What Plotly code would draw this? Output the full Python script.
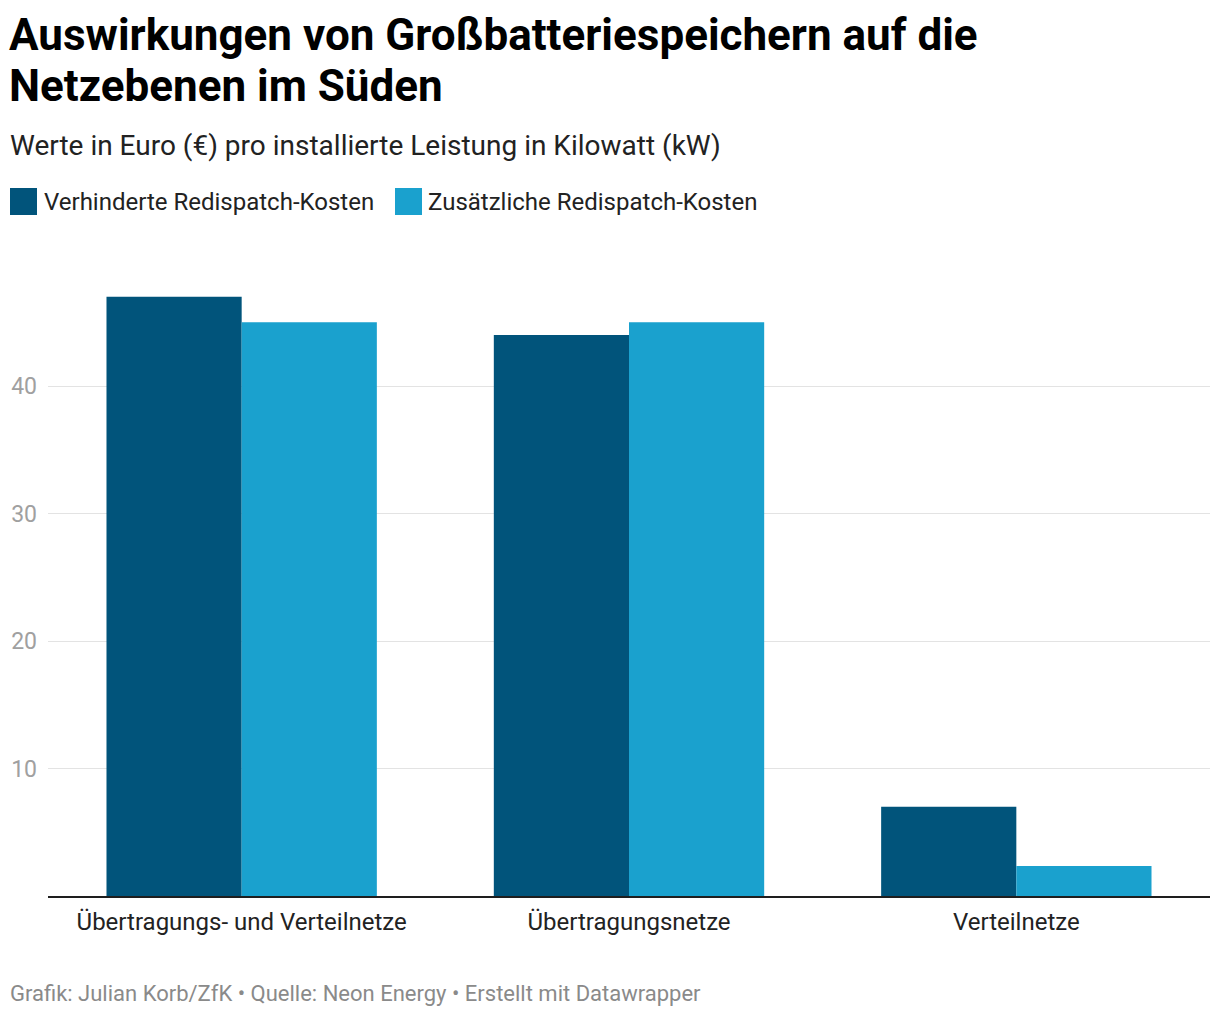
import plotly.graph_objects as go

categories = ["Übertragungs- und Verteilnetze", "Übertragungsnetze", "Verteilnetze"]
verhindert = [47, 44, 7]
zusaetzlich = [45, 45, 2.35]
series_names = ["Verhinderte Redispatch-Kosten", "Zusätzliche Redispatch-Kosten"]
colors = ["#01547b", "#1aa1ce"]
y_ticks = [10, 20, 30, 40]

OFF = 8  # page margin offset
W, H = 1212, 1010
L, R, T, B = 40, 10, 276, 122
PW, PH = W - L - R, H - T - B


def px2x(px):
    return (px - OFF - L) / PW


def py2y(py):
    return (H - B - (py - OFF)) / PH


fig = go.Figure()
fig.add_trace(go.Bar(x=categories, y=verhindert, name=series_names[0],
                     marker=dict(color=colors[0], line=dict(width=0))))
fig.add_trace(go.Bar(x=categories, y=zusaetzlich, name=series_names[1],
                     marker=dict(color=colors[1], line=dict(width=0))))

fig.update_layout(
    width=W, height=H,
    margin=dict(l=L, r=R, t=T, b=B, autoexpand=False),
    paper_bgcolor="white", plot_bgcolor="white",
    barmode="group", bargap=0.302, bargroupgap=0,
    showlegend=False,
    font=dict(family="Roboto", color="#222"),
)
fig.update_yaxes(range=[0, 48], tickvals=y_ticks, showgrid=True,
                 gridcolor="#e3e3e3", gridwidth=1, zeroline=False,
                 showline=False, ticks="", tickfont=dict(size=23, color="#a0a0a0"),
                 ticklabelstandoff=10)
fig.update_xaxes(showline=True, linecolor="#1e1e1e", linewidth=2, ticks="",
                 tickfont=dict(size=24, color="#222"), ticklabelstandoff=3)

annotations = [
    dict(text="<b>Auswirkungen von Großbatteriespeichern auf die</b>",
         x=px2x(7), y=py2y(35), xanchor="left", yanchor="middle",
         font=dict(size=44, color="#000", family="Roboto")),
    dict(text="<b>Netzebenen im Süden</b>",
         x=px2x(7), y=py2y(86), xanchor="left", yanchor="middle",
         font=dict(size=44, color="#000", family="Roboto")),
    dict(text="Werte in Euro (€) pro installierte Leistung in Kilowatt (kW)",
         x=px2x(8), y=py2y(146), xanchor="left", yanchor="middle",
         font=dict(size=28, color="#222", family="Roboto")),
    dict(text="Grafik: Julian Korb/ZfK • Quelle: Neon Energy • Erstellt mit Datawrapper",
         x=px2x(8), y=py2y(994), xanchor="left", yanchor="middle",
         font=dict(size=22, color="#8a8a8a", family="Roboto")),
]
shapes = []
legend_pos = [(10, 42), (395, 426)]
for (sx, tx), name, col in zip(legend_pos, series_names, colors):
    shapes.append(dict(type="rect", xref="paper", yref="paper",
                       x0=px2x(sx), x1=px2x(sx + 27), y0=py2y(188), y1=py2y(215),
                       fillcolor=col, line=dict(width=0)))
    annotations.append(dict(text=name, x=px2x(tx), y=py2y(202), xanchor="left",
                            yanchor="middle", font=dict(size=24, color="#222", family="Roboto")))

for a in annotations:
    a.update(xref="paper", yref="paper", showarrow=False)
fig.update_layout(annotations=annotations, shapes=shapes)

fig.write_html("out.html")
